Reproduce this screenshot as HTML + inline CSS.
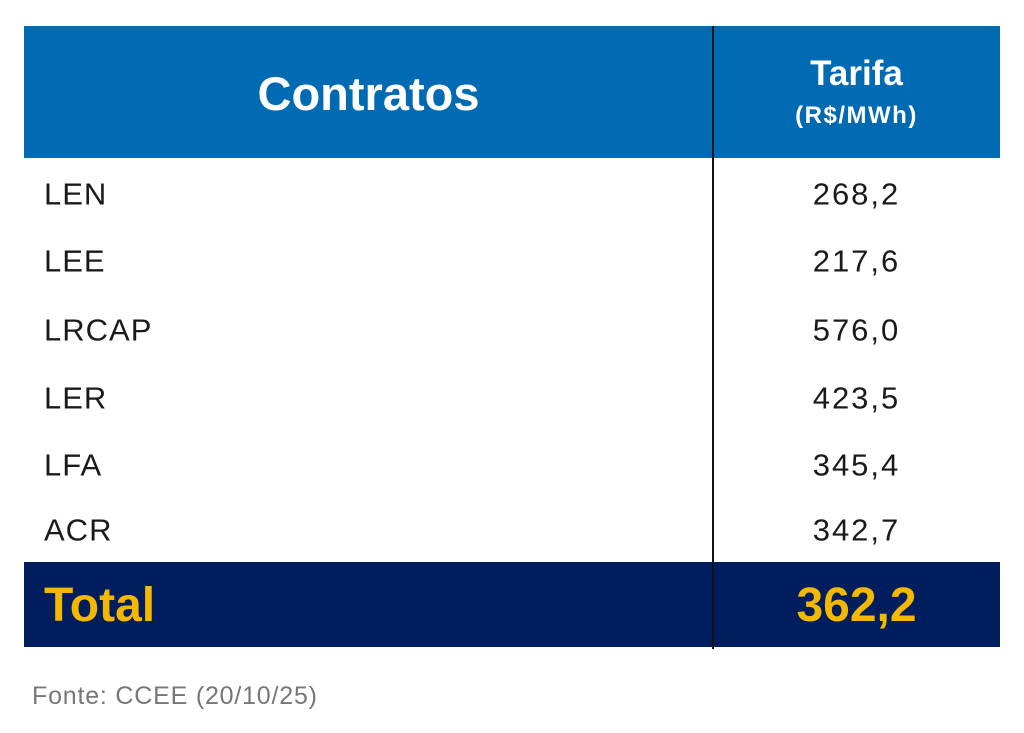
<!DOCTYPE html>
<html><head><meta charset="utf-8"><style>
body{margin:0;width:1024px;height:733px;background:#fff;position:relative;font-family:"Liberation Sans","DejaVu Sans",sans-serif;overflow:hidden}
.a{position:absolute}
.row{position:absolute;left:44px;font-size:31px;letter-spacing:1px;color:#1a1a1a;line-height:1;transform:translateY(-50%)}
.num{position:absolute;left:713px;width:287px;text-align:center;font-size:31px;letter-spacing:2px;color:#1a1a1a;line-height:1;transform:translateY(-50%)}
</style></head><body>
<div class="a" style="left:24px;top:26px;width:976px;height:132px;background:#006ab3"></div>
<div class="a" style="left:24px;top:562px;width:976px;height:85px;background:#001e5e"></div>
<div class="a" style="left:712px;top:26px;width:2px;height:623px;background:#111"></div>
<div class="a" style="left:24px;top:68px;width:689px;text-align:center;color:#fff;font-weight:bold;font-size:47px;line-height:52px">Contratos</div>
<div class="a" style="left:713px;top:55px;width:287px;text-align:center;color:#fff;font-weight:bold;font-size:35px;line-height:38px">Tarifa</div>
<div class="a" style="left:713px;top:102px;width:287px;text-align:center;color:#fff;font-weight:bold;font-size:24px;letter-spacing:1.5px;line-height:28px">(R$/MWh)</div>
<div class="row" style="top:194px">LEN</div><div class="num" style="top:194px">268,2</div>
<div class="row" style="top:261px">LEE</div><div class="num" style="top:261px">217,6</div>
<div class="row" style="top:330px">LRCAP</div><div class="num" style="top:330px">576,0</div>
<div class="row" style="top:398px">LER</div><div class="num" style="top:398px">423,5</div>
<div class="row" style="top:465px">LFA</div><div class="num" style="top:465px">345,4</div>
<div class="row" style="top:530px">ACR</div><div class="num" style="top:530px">342,7</div>
<div class="a" style="left:44px;top:579px;font-size:48px;font-weight:bold;color:#f5b800;line-height:54px">Total</div>
<div class="a" style="left:713px;top:579px;width:287px;text-align:center;font-size:48px;font-weight:bold;color:#f5b800;line-height:54px">362,2</div>
<div class="a" style="left:32px;top:682px;font-size:25px;letter-spacing:0.8px;color:#777;line-height:28px">Fonte: CCEE (20/10/25)</div>
</body></html>
